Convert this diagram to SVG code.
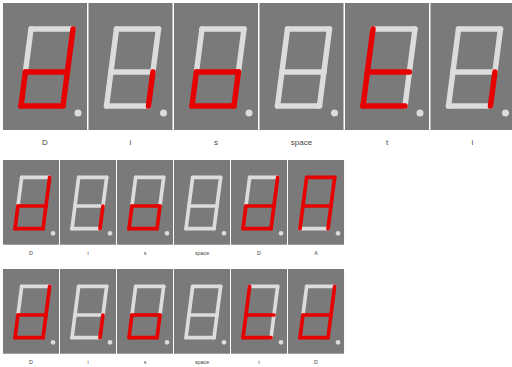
<svg xmlns="http://www.w3.org/2000/svg" width="512" height="367" viewBox="0 0 512 367">
<style>
.panel{fill:#7a7a7a}
.on{stroke:#e60000;stroke-width:5.5;stroke-linecap:round;fill:none}
.off{stroke:#dcdcdc;stroke-width:5.5;stroke-linecap:round;fill:none}
.dp{fill:#dcdcdc}
.lbl{font-family:"Liberation Sans",Arial,sans-serif;font-size:8px;fill:#444;text-anchor:middle}
</style>
<defs>
<line id="sa" x1="28" y1="26" x2="70" y2="26"/>
<line id="sb" x1="70" y1="26" x2="64.4" y2="69"/>
<line id="sc" x1="64.4" y1="69" x2="60" y2="103"/>
<line id="sd" x1="60" y1="103" x2="18" y2="103"/>
<line id="se" x1="18" y1="103" x2="22.4" y2="69"/>
<line id="sf" x1="22.4" y1="69" x2="28" y2="26"/>
<line id="sg" x1="22.4" y1="69" x2="64.4" y2="69"/>
<g id="dD"><rect class="panel" width="84" height="127"/><use href="#sa" class="off"/><use href="#sf" class="off"/><use href="#sb" class="on"/><use href="#sc" class="on"/><use href="#sd" class="on"/><use href="#se" class="on"/><use href="#sg" class="on"/><circle class="dp" cx="75" cy="110" r="3.5"/></g>
<g id="dI"><rect class="panel" width="84" height="127"/><use href="#sa" class="off"/><use href="#sb" class="off"/><use href="#sd" class="off"/><use href="#se" class="off"/><use href="#sf" class="off"/><use href="#sg" class="off"/><use href="#sc" class="on"/><circle class="dp" cx="75" cy="110" r="3.5"/></g>
<g id="dS"><rect class="panel" width="84" height="127"/><use href="#sa" class="off"/><use href="#sb" class="off"/><use href="#sf" class="off"/><use href="#sc" class="on"/><use href="#sd" class="on"/><use href="#se" class="on"/><use href="#sg" class="on"/><circle class="dp" cx="75" cy="110" r="3.5"/></g>
<g id="dSp"><rect class="panel" width="84" height="127"/><use href="#sa" class="off"/><use href="#sb" class="off"/><use href="#sc" class="off"/><use href="#sd" class="off"/><use href="#se" class="off"/><use href="#sf" class="off"/><use href="#sg" class="off"/><circle class="dp" cx="75" cy="110" r="3.5"/></g>
<g id="dT"><rect class="panel" width="84" height="127"/><use href="#sa" class="off"/><use href="#sb" class="off"/><use href="#sc" class="off"/><use href="#sd" class="on"/><use href="#se" class="on"/><use href="#sf" class="on"/><use href="#sg" class="on"/><circle class="dp" cx="75" cy="110" r="3.5"/></g>
<g id="dA"><rect class="panel" width="84" height="127"/><use href="#sd" class="off"/><use href="#sa" class="on"/><use href="#sb" class="on"/><use href="#sc" class="on"/><use href="#se" class="on"/><use href="#sf" class="on"/><use href="#sg" class="on"/><circle class="dp" cx="75" cy="110" r="3.5"/></g>
</defs>
<rect width="512" height="367" fill="#ffffff"/>
<g id="row1">
<g id="r1-D" transform="translate(3,3)"><use href="#dD"/><text class="lbl" x="42" y="142">D</text></g>
<g id="r1-i" transform="translate(88.5,3)"><use href="#dI"/><text class="lbl" x="42" y="142">i</text></g>
<g id="r1-s" transform="translate(174,3)"><use href="#dS"/><text class="lbl" x="42" y="142">s</text></g>
<g id="r1-space" transform="translate(259.5,3)"><use href="#dSp"/><text class="lbl" x="42" y="142">space</text></g>
<g id="r1-t" transform="translate(345,3)"><use href="#dT"/><text class="lbl" x="42" y="142">t</text></g>
<g id="r1-i2" transform="translate(430.5,3)"><use href="#dI"/><text class="lbl" x="42" y="142">i</text></g>
</g>
<g id="row2">
<g id="r2-D" transform="translate(3,160) scale(0.667)"><use href="#dD"/><text class="lbl" x="42" y="142">D</text></g>
<g id="r2-i" transform="translate(60,160) scale(0.667)"><use href="#dI"/><text class="lbl" x="42" y="142">i</text></g>
<g id="r2-s" transform="translate(117,160) scale(0.667)"><use href="#dS"/><text class="lbl" x="42" y="142">s</text></g>
<g id="r2-space" transform="translate(174,160) scale(0.667)"><use href="#dSp"/><text class="lbl" x="42" y="142">space</text></g>
<g id="r2-D2" transform="translate(231,160) scale(0.667)"><use href="#dD"/><text class="lbl" x="42" y="142">D</text></g>
<g id="r2-A" transform="translate(288,160) scale(0.667)"><use href="#dA"/><text class="lbl" x="42" y="142">A</text></g>
</g>
<g id="row3">
<g id="r3-D" transform="translate(3,269) scale(0.667)"><use href="#dD"/><text class="lbl" x="42" y="142">D</text></g>
<g id="r3-i" transform="translate(60,269) scale(0.667)"><use href="#dI"/><text class="lbl" x="42" y="142">i</text></g>
<g id="r3-s" transform="translate(117,269) scale(0.667)"><use href="#dS"/><text class="lbl" x="42" y="142">s</text></g>
<g id="r3-space" transform="translate(174,269) scale(0.667)"><use href="#dSp"/><text class="lbl" x="42" y="142">space</text></g>
<g id="r3-t" transform="translate(231,269) scale(0.667)"><use href="#dT"/><text class="lbl" x="42" y="142">t</text></g>
<g id="r3-D2" transform="translate(288,269) scale(0.667)"><use href="#dD"/><text class="lbl" x="42" y="142">D</text></g>
</g>
</svg>
